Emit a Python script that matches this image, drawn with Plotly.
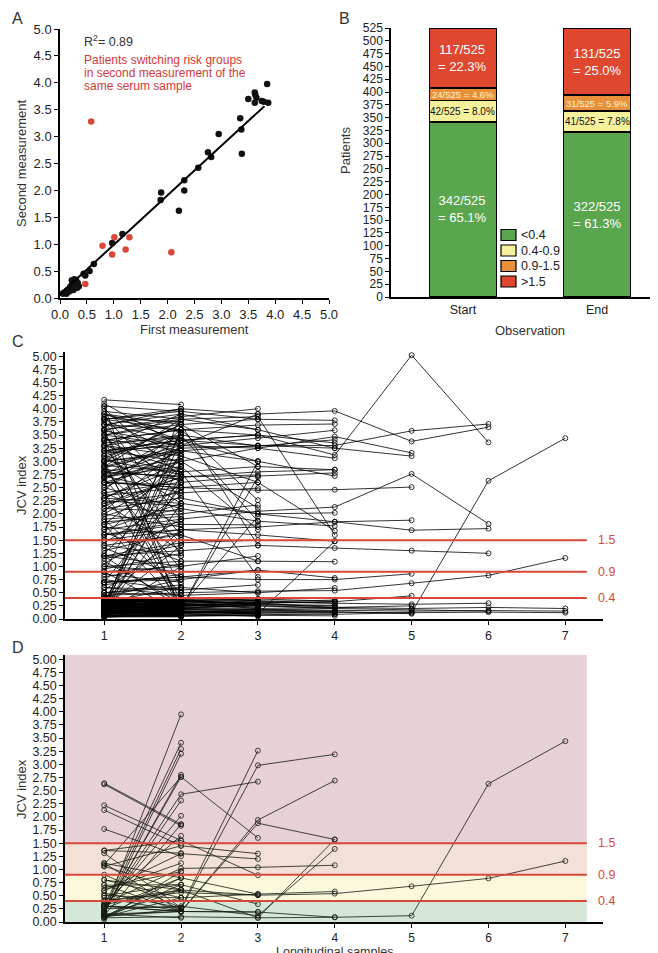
import plotly.graph_objects as go

# ---------------- panel A: first vs second measurement of the same sample
a_first_black = [3.85, 3.62, 3.63, 3.65, 3.62, 3.50, 3.75, 3.87, 3.79, 3.35, 3.37, 3.38,
                 2.95, 2.75, 2.81, 2.57, 2.31, 2.31, 2.21, 1.88, 1.87, 1.16, 0.97, 0.63,
                 0.55, 0.47, 0.44, 0.27, 0.30, 0.22, 0.33, 0.28, 0.20, 0.25, 0.15, 0.10,
                 0.12, 0.08, 0.05, 0.18, 0.35, 0.30, 0.23, 0.17, 0.26, 0.13, 0.32]
a_second_black = [3.98, 3.82, 3.78, 3.72, 3.63, 3.70, 3.66, 3.63, 3.65, 3.34, 3.13, 2.68,
                  3.05, 2.71, 2.62, 2.42, 2.19, 2.00, 1.62, 1.96, 1.82, 1.19, 1.02, 0.63,
                  0.50, 0.42, 0.45, 0.35, 0.33, 0.33, 0.28, 0.20, 0.22, 0.15, 0.15, 0.10,
                  0.08, 0.10, 0.08, 0.18, 0.22, 0.25, 0.25, 0.12, 0.28, 0.14, 0.19]
a_first_red = [0.58, 0.79, 1.01, 0.97, 1.22, 1.29, 2.07, 0.47]
a_second_red = [3.28, 0.97, 1.13, 0.81, 0.90, 1.13, 0.85, 0.26]
a_fit_slope = 0.92
a_fit_intercept = 0.07
a_fit_span = [0.0, 3.8]
a_r2 = 0.89

# ---------------- panel B: risk groups at start and end of observation
b_observations = ["Start", "End"]
b_groups = ["<0.4", "0.4-0.9", "0.9-1.5", ">1.5"]
b_below_04 = [342, 322]
b_04_to_09 = [42, 41]
b_09_to_15 = [24, 31]
b_above_15 = [117, 131]
b_total = 525
b_colors = ["#5aa64e", "#f5f09c", "#e8913a", "#e0472f"]
b_text_colors = ["white", "#111111", "#fdf0c8", "white"]
b_text_sizes = [13, 10, 9.5, 13]

# ---------------- panels C and D: longitudinal JCV index
risk_cutoffs = [0.4, 0.9, 1.5]
sample_numbers = [1, 2, 3, 4, 5, 6, 7]

c_two_samples = [
    [4.17, 4.08], [4.10, 3.30], [4.05, 3.95], [4.00, 2.70], [3.95, 3.80], [3.90, 3.55],
    [3.85, 2.30], [3.82, 3.75], [3.80, 3.10], [3.75, 1.90], [3.70, 3.60], [3.68, 4.00],
    [3.62, 2.95], [3.58, 3.30], [3.55, 1.20], [3.50, 3.78], [3.45, 2.60], [3.42, 3.20],
    [3.40, 0.60], [3.35, 3.45], [3.30, 2.85], [3.28, 3.90], [3.25, 1.60], [3.20, 3.00],
    [3.15, 3.35], [3.10, 2.20], [3.05, 3.70], [3.02, 2.75], [3.00, 3.15], [2.95, 0.35],
    [2.92, 2.80], [2.88, 3.25], [2.85, 2.65], [2.82, 1.45], [2.80, 3.05], [2.78, 2.72],
    [2.75, 3.50], [2.72, 2.40], [2.70, 2.90], [2.68, 0.95], [2.65, 3.40], [2.60, 2.55],
    [2.55, 3.20], [2.50, 2.10], [2.45, 3.60], [2.40, 1.80], [2.35, 2.50], [2.30, 3.00],
    [2.25, 2.15], [2.20, 1.30], [2.15, 2.70], [2.10, 2.05], [2.05, 3.30], [2.00, 1.75],
    [1.95, 2.45], [1.90, 0.50], [1.85, 1.95], [1.80, 2.90], [1.75, 1.60], [1.70, 2.20],
    [1.65, 1.10], [1.60, 1.85], [1.55, 3.10], [1.50, 1.50], [1.45, 2.35], [1.40, 1.20],
    [1.35, 0.80], [1.30, 1.65], [1.25, 2.60], [1.20, 1.00], [1.15, 1.40], [1.10, 0.30],
    [1.05, 1.90], [1.00, 0.90], [0.95, 1.25], [0.90, 3.55], [0.85, 0.70], [0.80, 1.05],
    [0.75, 0.55], [0.70, 2.50], [0.65, 0.85], [0.60, 0.45], [0.55, 1.55], [0.50, 0.65],
    [0.45, 0.25], [0.42, 0.75], [0.20, 3.90], [0.15, 3.60], [0.30, 3.20], [0.25, 2.95],
    [0.18, 2.60], [0.10, 2.20], [0.35, 1.70], [0.22, 1.40], [0.12, 1.00], [0.28, 3.40],
    [0.08, 2.75], [0.32, 0.60], [3.60, 0.20], [3.00, 0.15], [2.40, 0.30], [1.80, 0.25],
    [4.05, 0.10], [1.20, 0.20], [0.90, 0.12],
]
c_low_two_samples = [
    [0.38, 0.35], [0.36, 0.30], [0.35, 0.38], [0.33, 0.25], [0.32, 0.34], [0.31, 0.20],
    [0.30, 0.31], [0.29, 0.37], [0.28, 0.22], [0.27, 0.29], [0.26, 0.15], [0.25, 0.27],
    [0.24, 0.33], [0.23, 0.18], [0.22, 0.24], [0.21, 0.12], [0.20, 0.21], [0.19, 0.30],
    [0.18, 0.16], [0.17, 0.20], [0.16, 0.10], [0.15, 0.17], [0.14, 0.26], [0.13, 0.11],
    [0.12, 0.14], [0.11, 0.08], [0.10, 0.12], [0.09, 0.19], [0.08, 0.07], [0.07, 0.09],
    [0.06, 0.05], [0.05, 0.06], [0.04, 0.04], [0.37, 0.28], [0.34, 0.39], [0.30, 0.12],
    [0.25, 0.36], [0.20, 0.06], [0.15, 0.32], [0.10, 0.23], [0.39, 0.18], [0.12, 0.38],
    [0.28, 0.10], [0.33, 0.14], [0.06, 0.16], [0.18, 0.28], [0.22, 0.05], [0.35, 0.08],
    [0.08, 0.35], [0.03, 0.10],
]
c_three_samples = [
    [3.60, 3.85, 4.00], [3.20, 3.30, 3.90], [2.90, 3.80, 3.60], [3.70, 3.40, 3.50],
    [2.50, 3.20, 3.00], [3.90, 3.70, 2.90], [2.80, 2.70, 2.74], [3.30, 3.10, 2.60],
    [2.20, 2.40, 2.49], [3.40, 3.60, 2.26], [1.90, 2.00, 2.17], [2.60, 3.00, 2.11],
    [3.10, 3.50, 1.86], [1.60, 1.80, 1.79], [2.30, 2.90, 1.70], [1.20, 1.45, 1.50],
    [3.00, 3.70, 1.40], [0.90, 1.00, 1.20], [1.40, 1.60, 1.10], [0.70, 0.75, 0.93],
    [2.00, 2.80, 0.80], [0.60, 0.55, 0.65], [0.50, 0.45, 0.50], [0.20, 0.18, 3.00],
    [0.10, 0.20, 2.70], [0.30, 0.25, 1.95], [3.80, 3.95, 3.80], [2.70, 3.25, 3.29],
]
c_low_three_samples = [
    [0.36, 0.33, 0.35], [0.30, 0.28, 0.30], [0.25, 0.27, 0.22], [0.20, 0.22, 0.25],
    [0.15, 0.16, 0.12], [0.10, 0.12, 0.10], [0.05, 0.07, 0.06], [0.33, 0.36, 0.38],
    [0.28, 0.24, 0.32], [0.22, 0.18, 0.15], [0.18, 0.20, 0.28], [0.12, 0.10, 0.14],
    [0.08, 0.06, 0.08], [0.38, 0.34, 0.30], [0.26, 0.30, 0.20], [0.14, 0.20, 0.18],
    [0.32, 0.25, 0.36], [0.06, 0.10, 0.05], [0.35, 0.38, 0.26], [0.20, 0.14, 0.10],
]
c_four_samples = [
    [3.50, 3.70, 3.80, 3.78], [3.80, 3.60, 3.69, 3.71], [2.90, 3.30, 3.44, 3.59],
    [3.30, 3.50, 3.29, 3.41], [3.70, 3.90, 3.60, 3.25], [2.70, 3.00, 3.25, 3.06],
    [3.10, 2.80, 2.90, 2.84], [2.40, 2.60, 2.72, 2.78], [3.90, 3.40, 3.00, 2.72],
    [2.10, 2.30, 2.00, 2.02], [1.80, 2.10, 1.86, 1.77], [2.60, 2.50, 2.60, 1.68],
    [3.60, 3.80, 3.85, 1.60], [1.50, 1.70, 1.60, 1.48], [1.00, 1.10, 1.10, 1.09],
    [0.70, 0.80, 0.93, 0.78], [0.50, 0.60, 0.50, 0.59], [0.20, 0.15, 0.10, 1.48],
    [3.20, 3.40, 3.50, 3.35], [2.20, 2.70, 2.80, 2.84],
]
c_low_four_samples = [
    [0.35, 0.32, 0.30, 0.33], [0.30, 0.28, 0.26, 0.25], [0.25, 0.22, 0.20, 0.22],
    [0.20, 0.18, 0.17, 0.15], [0.15, 0.14, 0.12, 0.13], [0.10, 0.09, 0.08, 0.10],
    [0.38, 0.36, 0.35, 0.30], [0.28, 0.30, 0.33, 0.36], [0.22, 0.25, 0.28, 0.26],
    [0.12, 0.15, 0.18, 0.20], [0.06, 0.05, 0.07, 0.06], [0.32, 0.35, 0.38, 0.34],
]
c_long_series = [
    [3.50, 3.30, 3.25, 3.47, 3.16], [3.20, 3.40, 3.30, 3.25, 3.10],
    [2.60, 2.50, 2.45, 2.46, 2.51], [2.30, 2.20, 2.00, 1.85, 1.88],
    [0.70, 0.80, 0.75, 0.75, 0.86], [0.30, 0.35, 0.30, 0.33, 0.44],
    [0.10, 0.12, 0.15, 0.14, 0.10], [0.28, 0.25, 0.30, 0.22, 0.25],
    [3.40, 3.60, 3.50, 3.12, 5.02, 3.36], [3.80, 4.00, 3.90, 3.96, 3.38, 3.65],
    [3.00, 3.20, 3.30, 3.30, 3.58, 3.71], [1.70, 1.90, 2.05, 2.13, 2.76, 1.81],
    [1.60, 1.70, 1.75, 1.85, 1.69, 1.72], [1.20, 1.30, 1.40, 1.35, 1.30, 1.25],
    [0.35, 0.30, 0.32, 0.30, 0.28, 0.30], [0.20, 0.22, 0.25, 0.20, 0.18, 0.15],
    [0.45, 0.50, 0.53, 0.54, 0.68, 0.83, 1.16], [0.15, 0.12, 0.10, 0.09, 0.12, 2.63, 3.44],
    [0.30, 0.28, 0.25, 0.22, 0.20, 0.22, 0.20], [0.25, 0.20, 0.18, 0.17, 0.15, 0.16, 0.15],
    [0.15, 0.14, 0.13, 0.12, 0.12, 0.13, 0.12],
]

d_switching = [
    [2.64, 1.86], [2.62, 1.83], [2.22, 1.55], [2.13, 1.45], [1.77, 1.25], [1.36, 1.31],
    [1.12, 0.84], [1.09, 2.76], [1.06, 0.61], [0.90, 0.27], [0.80, 0.46], [0.71, 0.20],
    [0.65, 0.96], [0.60, 1.12], [0.55, 0.27], [0.50, 0.71], [0.46, 0.20], [0.39, 1.64],
    [0.33, 0.61], [0.30, 3.41], [0.28, 2.02], [0.25, 0.84], [0.22, 3.29], [0.20, 2.31],
    [0.18, 3.95], [0.15, 3.20], [0.12, 1.86], [0.10, 0.46], [0.08, 0.71], [0.05, 0.96],
    [0.20, 2.80], [0.15, 0.08], [0.30, 0.20], [1.31, 0.27], [0.12, 0.61],
    [0.20, 2.76, 1.60], [0.25, 2.43, 2.67], [1.06, 1.45, 1.30], [0.60, 1.30, 1.20],
    [1.36, 1.55, 0.89], [0.30, 0.27, 3.26], [0.40, 0.61, 0.51], [0.70, 0.71, 0.34],
    [0.15, 0.20, 0.19], [0.10, 0.84, 0.53],
    [0.10, 0.25, 2.98, 3.19], [0.30, 0.20, 1.94, 2.69], [1.12, 0.20, 1.88, 1.57],
    [0.35, 1.02, 1.04, 1.08], [0.80, 0.61, 0.08, 1.57], [0.25, 0.30, 0.12, 1.39],
    [0.50, 0.46, 0.53, 0.58], [0.12, 0.20, 0.19, 0.09],
    [0.40, 0.56, 0.51, 0.54, 0.68, 0.83, 1.16], [0.08, 0.10, 0.08, 0.09, 0.12, 2.63, 3.44],
]
d_band_edges = [0, 0.4, 0.9, 1.5, 5.08]
d_band_colors = ["#d4e7d9", "#fbf8dc", "#f3e0d6", "#e7d0d6"]

FONT = "Liberation Sans, Arial, sans-serif"
RED = "#d9473a"
W, H = 658, 953


def px(x):
    return x / W


def py(y):
    return 1 - y / H


def flatten(trajectories):
    xs, ys = [], []
    for values in trajectories:
        xs += sample_numbers[:len(values)] + [None]
        ys += list(values) + [None]
    return xs, ys


fig = go.Figure()

# A
fig.add_trace(go.Scatter(x=a_first_black, y=a_second_black, mode="markers",
                         marker=dict(color="#111111", size=6.5), xaxis="x", yaxis="y"))
fig.add_trace(go.Scatter(x=a_first_red, y=a_second_red, mode="markers",
                         marker=dict(color=RED, size=6.5), xaxis="x", yaxis="y"))
fig.add_trace(go.Scatter(x=a_fit_span,
                         y=[a_fit_intercept + a_fit_slope * v for v in a_fit_span],
                         mode="lines", line=dict(color="black", width=2),
                         xaxis="x", yaxis="y"))

# B
b_series = [b_below_04, b_04_to_09, b_09_to_15, b_above_15]
for name, counts, color in zip(b_groups, b_series, b_colors):
    fig.add_trace(go.Bar(x=[0, 1], y=counts, name=name, width=0.5,
                         marker=dict(color=color, line=dict(color="black", width=1.5)),
                         xaxis="x2", yaxis="y2"))

annotations = []
for i in range(len(b_observations)):
    base = 0
    for k, counts in enumerate(b_series):
        n = counts[i]
        pct = 100 * n / b_total
        if b_text_sizes[k] >= 12:
            label = f"{n}/{b_total}<br>= {pct:.1f}%"
        else:
            label = f"{n}/{b_total} = {pct:.1f}%"
        annotations.append(dict(x=i, y=base + n / 2, xref="x2", yref="y2", text=label,
                                showarrow=False, xanchor="center", yanchor="middle",
                                font=dict(size=b_text_sizes[k], color=b_text_colors[k])))
        base += n

# C
cx, cy = flatten(c_two_samples + c_low_two_samples + c_three_samples + c_low_three_samples
                 + c_four_samples + c_low_four_samples + c_long_series)
fig.add_trace(go.Scatter(x=cx, y=cy, mode="lines+markers",
                         line=dict(color="black", width=0.8),
                         marker=dict(symbol="circle-open", size=5, color="black",
                                     line=dict(width=0.8)),
                         xaxis="x3", yaxis="y3"))

# D
dx, dy = flatten(d_switching)
fig.add_trace(go.Scatter(x=dx, y=dy, mode="lines+markers",
                         line=dict(color="#151a12", width=0.8),
                         marker=dict(symbol="circle-open", size=5, color="#151a12",
                                     line=dict(width=0.8)),
                         xaxis="x4", yaxis="y4"))

shapes = []
for lo, hi, col in zip(d_band_edges[:-1], d_band_edges[1:], d_band_colors):
    shapes.append(dict(type="rect", xref="x4", yref="y4", x0=0.49, x1=7.28, y0=lo, y1=hi,
                       fillcolor=col, line=dict(width=0), layer="below"))
for ax in ["3", "4"]:
    for c in risk_cutoffs:
        shapes.append(dict(type="line", xref="x" + ax, yref="y" + ax, x0=0.49, x1=7.28,
                           y0=c, y1=c, line=dict(color=RED, width=2), layer="above"))
        annotations.append(dict(x=px(588), y=c, xref="paper", yref="y" + ax, text=str(c),
                                showarrow=False, xanchor="left", yanchor="middle",
                                font=dict(size=12.5, color=RED)))

# B legend, drawn by hand
for k, (name, color) in enumerate(zip(b_groups, b_colors)):
    yc = 227 + 15.5 * k
    shapes.append(dict(type="rect", xref="paper", yref="paper", x0=px(493), x1=px(508),
                       y0=py(yc - 5.5), y1=py(yc + 5.5), fillcolor=color,
                       line=dict(color="black", width=1.2)))
    annotations.append(dict(x=px(511), y=py(yc), xref="paper", yref="paper", text=name,
                            showarrow=False, xanchor="left", yanchor="middle",
                            font=dict(size=12.5, color="#222")))

# texts in A
annotations.append(dict(x=0.41, y=py(33), xref="x", yref="paper", xanchor="left",
                        yanchor="middle", text=f"R<sup>2</sup>= {a_r2}", showarrow=False,
                        font=dict(size=12.5, color="#333")))
for j, line in enumerate(["Patients switching risk groups", "in second measurement of the",
                          "same serum sample"]):
    annotations.append(dict(x=0.41, y=py(52 + 13 * j), xref="x", yref="paper",
                            xanchor="left", yanchor="middle", text=line, showarrow=False,
                            font=dict(size=12, color="#d2383a")))

# panel letters and axis titles (anchors set explicitly: "auto" shifts paper texts)
for letter, x, y in [("A", 9, 11), ("B", 336, 11), ("C", 10, 333), ("D", 10, 639)]:
    annotations.append(dict(x=px(x), y=py(y), xref="paper", yref="paper", text=letter,
                            showarrow=False, xanchor="center", yanchor="middle",
                            font=dict(size=16, color="#333")))
for text, x, y, rot, size in [("Second measurement", 13, 155, -90, 13),
                              ("First measurement", 186, 321, 0, 13),
                              ("Patients", 338, 143, -90, 13),
                              ("Observation", 522, 322, 0, 13),
                              ("JCV index", 13, 477, -90, 13),
                              ("JCV index", 13, 781, -90, 13),
                              ("Longitudinal samples", 326, 944, 0, 12.5)]:
    annotations.append(dict(x=px(x), y=py(y), xref="paper", yref="paper", text=text,
                            showarrow=False, textangle=rot, borderpad=0,
                            xanchor="center", yanchor="middle",
                            font=dict(size=size, color="#333")))

axis_style = dict(showline=True, linecolor="black", linewidth=1.5, ticks="outside",
                  ticklen=4, tickwidth=1.3, tickcolor="black", showgrid=False,
                  zeroline=False, automargin=False, tickfont=dict(size=12.5, color="#222"))

fig.update_layout(
    width=W, height=H, margin=dict(l=0, r=0, t=0, b=0, pad=0), autosize=False,
    paper_bgcolor="white", plot_bgcolor="white",
    font=dict(family=FONT), showlegend=False, barmode="stack",
    shapes=shapes, annotations=annotations,
    xaxis=dict(axis_style, domain=[px(52), px(321)], range=[0, 5], dtick=0.5,
               tickformat=".1f", anchor="y", tickfont=dict(size=13, color="#222")),
    yaxis=dict(axis_style, domain=[py(290), py(21)], range=[0, 5], dtick=0.5,
               tickformat=".1f", anchor="x", tickfont=dict(size=13, color="#222")),
    xaxis2=dict(axis_style, domain=[px(383), px(653)], range=[-0.537, 1.477],
                tickvals=[0, 1], ticktext=b_observations, ticks="", anchor="y2",
                tickfont=dict(size=12.5, color="#222")),
    yaxis2=dict(axis_style, domain=[py(289), py(20)], range=[0, 525], dtick=25,
                anchor="x2", tickfont=dict(size=12, color="#222")),
    xaxis3=dict(axis_style, domain=[px(57), px(595)], range=[0.49, 7.49],
                tickvals=sample_numbers, anchor="y3"),
    yaxis3=dict(axis_style, domain=[py(611), py(344)], range=[0, 5.08], dtick=0.25,
                tick0=0, tickformat=".2f", anchor="x3"),
    xaxis4=dict(axis_style, domain=[px(57), px(595)], range=[0.49, 7.49],
                tickvals=sample_numbers, anchor="y4", tickfont=dict(size=12, color="#222")),
    yaxis4=dict(axis_style, domain=[py(914), py(647)], range=[0, 5.08], dtick=0.25,
                tick0=0, tickformat=".2f", anchor="x4"),
)

fig.write_html("out.html")
